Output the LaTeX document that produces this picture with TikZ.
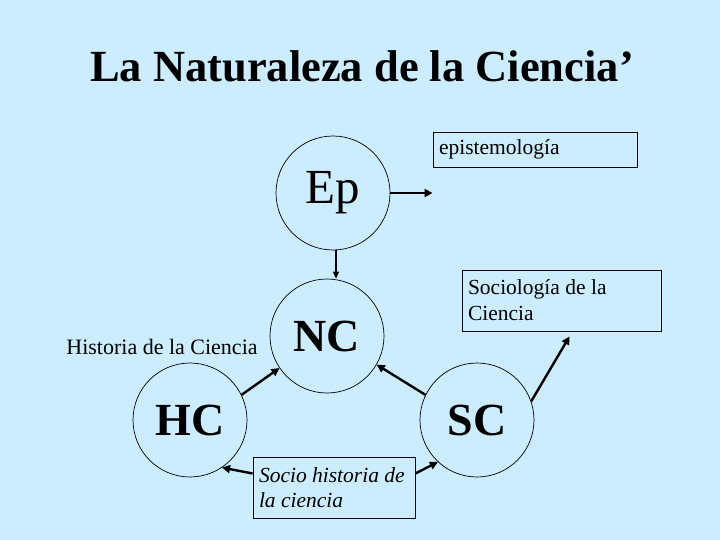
\documentclass[tikz,border=0pt]{standalone}
\usepackage{fontspec}
\setmainfont{Liberation Serif}
\usepackage{tikz}
\usetikzlibrary{shapes,arrows.meta,positioning,calc}
\definecolor{slideblue}{HTML}{CCECFF}

\begin{document}
\begin{tikzpicture}[x=1pt,y=-1pt,
    bubble/.style={draw,circle,line width=0.7pt,minimum size=114pt,inner sep=0pt},
    notebox/.style={draw,rectangle,line width=0.9pt,align=flush left,inner xsep=6pt,
      font=\fontsize{21.5}{26}\selectfont},
    link/.style={-{Triangle[length=8pt,width=8pt]},line width=2.4pt},
    thinlink/.style={-{Triangle[length=7pt,width=6pt]},line width=1.3pt}]
  % Background of the slide
  \fill[slideblue] (0,0) rectangle (720,540);
  \useasboundingbox (0,0) rectangle (720,540);

  % Title
  \node[font=\fontsize{44.5}{50}\selectfont\bfseries] (title) at (362,66) {La Naturaleza de la Ciencia’};

  % The four circles
  \node[bubble,font=\fontsize{49}{50}\selectfont] (Ep) at (333,193) {Ep};
  \node[bubble,font=\fontsize{46}{50}\selectfont\bfseries] (NC) at (327,336) {NC};
  \node[bubble,font=\fontsize{46}{50}\selectfont\bfseries] (HC) at (190,420) {HC};
  \node[bubble,font=\fontsize{46}{50}\selectfont\bfseries] (SC) at (477,420) {SC};

  % Labels and boxes
  \node[font=\fontsize{22}{26}\selectfont] (hist) at (162,347) {Historia de la Ciencia};
  \node[notebox,text width=192pt,minimum height=35pt] (epi) at (535,149.5) {epistemología};
  \node[notebox,text width=187pt,minimum height=61pt] (soc) at (561.5,300.5) {Sociología de la\\Ciencia};
  \node[notebox,text width=150pt,minimum height=61pt,
    font=\fontsize{21.5}{25}\selectfont\itshape] (sh) at (334,487.5) {Socio historia de\\la ciencia};

  % Arrows
  \draw[link] (Ep.east) -- (Ep.east -| epi.west);
  \draw[thinlink] ([xshift=3pt]Ep.south) -- ([xshift=9pt]NC.north);
  \draw[link] (HC.26) -- (NC.214);
  \draw[link] (SC.154) -- (NC.-30);
  \draw[link] (SC.19) -- ([xshift=8pt,yshift=-5pt]soc.south);
  \draw[link] ([yshift=14pt]sh.west) -- (HC.-56);
  \draw[link] ([yshift=14pt]sh.east) -- (SC.227);
\end{tikzpicture}
\end{document}
